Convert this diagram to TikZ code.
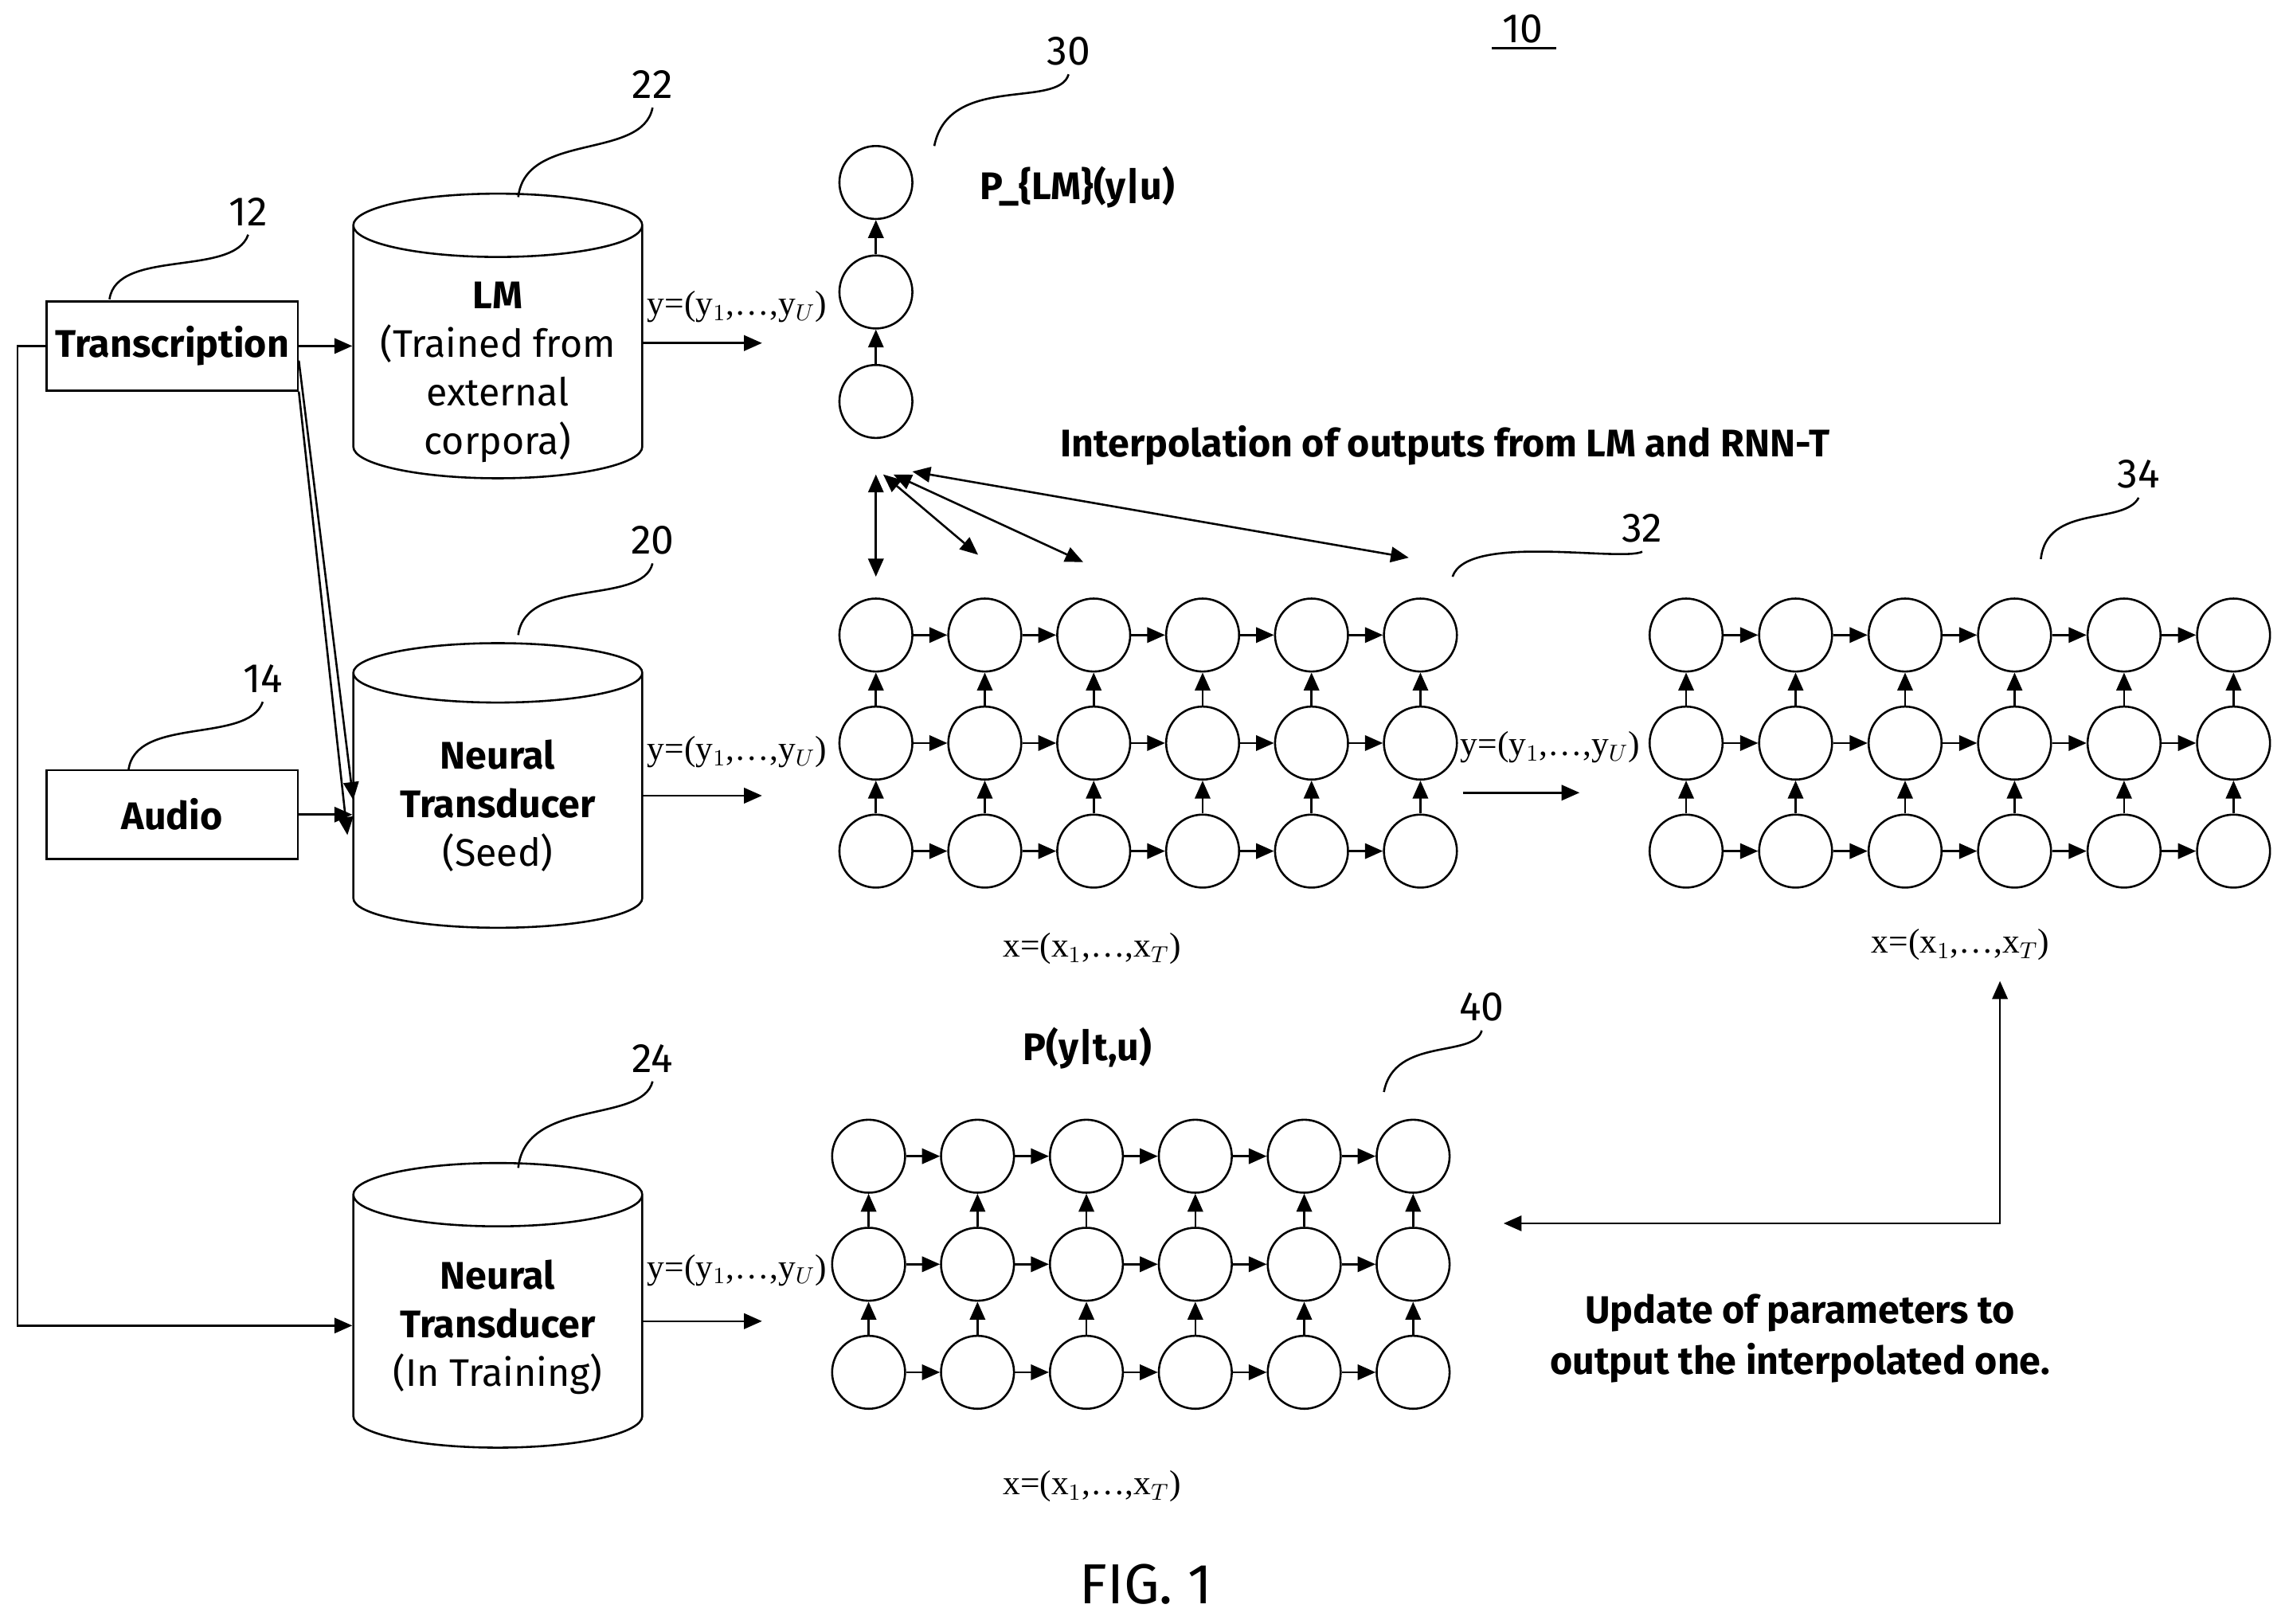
\documentclass[tikz,border=0pt]{standalone}
\usepackage{fontspec}
\setmainfont{Liberation Serif}
\setsansfont{Fira Sans}
\usetikzlibrary{arrows.meta,shapes.geometric}
\tikzset{
  every picture/.style={/utils/exec={\sffamily}},
  neuron/.style={circle, draw, thick, minimum size=1cm, inner sep=0pt},
  arr/.style={-{Triangle[length=7pt,width=6pt]}, thick},
  darr/.style={{Triangle[length=7pt,width=6pt]}-{Triangle[length=7pt,width=6pt]}, thick},
  box/.style={draw, thick, minimum width=3.44cm, minimum height=1.22cm, font=\fontsize{15}{18}\selectfont\bfseries},
  db/.style={cylinder, draw, thick, shape border rotate=90, aspect=0.28, minimum width=3.96cm, minimum height=3.9cm, align=center, font=\fontsize{15}{19}\selectfont},
  refnum/.style={font=\fontsize{16}{19}\selectfont},
  seq/.style={font=\rmfamily\fontsize{13.5}{16}\selectfont, inner sep=1pt},
  lead/.style={thick},
}
\begin{document}
\begin{tikzpicture}[x=0.02cm, y=-0.02cm]
  \useasboundingbox (0,0) rectangle (1568,1112);

  % inputs
  \node [box] (trans) at (118,237) {Transcription};
  \node [box] (audio) at (118,558) {Audio};

  % models
  \node [db] (lm) at (341,245) {\textbf{\phantom{Transducer}}\\\phantom{(In Training)}\\\phantom{X}};
  \node [font=\fontsize{15}{19}\selectfont, align=center] (lmtxt) at (341,255) {\textbf{LM}\\(Trained from\\external\\corpora)};
  \node [db] (seed) at (341,552) {\textbf{Neural}\\\textbf{Transducer}\\(Seed)};
  \node [db] (train) at (341,909) {\textbf{Neural}\\\textbf{Transducer}\\(In Training)};

  \draw [arr] (trans) -- (trans -| lm.west);
  \draw [arr] (trans.east) ++(0,10) coordinate (t1) -- (242,548);
  \draw [arr] (trans.south east) -- (238,572);
  \draw [arr] (audio) -- (audio -| seed.west);
  \coordinate (lft) at (12,237);
  \draw [arr] (trans.west) -- (lft) -- (12,908) -- (train.west |- 0,908);

  % sequences out of the models
  \node [seq] (ylm) at (505,210) {y=(y$_1$,\ldots,y$_U$)};
  \node [seq] (yseed) at (505,515) {y=(y$_1$,\ldots,y$_U$)};
  \node [seq] (ytrain) at (505,870) {y=(y$_1$,\ldots,y$_U$)};
  \draw [arr] (440,235) -- (522,235);
  \draw [arr] (440,545) -- (522,545);
  \draw [arr] (440,905) -- (522,905);

  % LM chain
  \foreach \i/\y in {1/275,2/200,3/125}
    \node [neuron] (c\i) at (600,\y) {};
  \draw [arr] (c1) -- (c2);
  \draw [arr] (c2) -- (c3);
  \node [font=\fontsize{15}{18}\selectfont\bfseries] (plm) at (738,128) {P\_\{LM\}(y|u)};

  % grids
  \foreach \g/\x/\y/\dx in {32/600/435/74.6, 34/1155/435/75, 40/595/792/74.6} {
    \foreach \c in {1,...,6} {
      \foreach \r in {1,2,3}
        \node [neuron] (g\g-\c-\r) at ({\x+(\c-1)*\dx},{\y+(\r-1)*74}) {};
    }
    \foreach \r in {1,2,3} {
      \foreach \c [evaluate=\c as \n using int(\c+1)] in {1,...,5}
        \draw [arr] (g\g-\c-\r) -- (g\g-\n-\r);
    }
    \foreach \c in {1,...,6} {
      \draw [arr] (g\g-\c-3) -- (g\g-\c-2);
      \draw [arr] (g\g-\c-2) -- (g\g-\c-1);
    }
  }

  % interpolation
  \coordinate (ip) at (600,325);
  \node [font=\fontsize{15}{18}\selectfont\bfseries] (interp) at (990,305) {Interpolation of outputs from LM and RNN-T};
  \draw [darr] (ip) -- (600,395);
  \draw [darr] (605,325) -- (670,380);
  \draw [darr] (612,325) -- (742,385);
  \draw [darr] (625,323) -- (965,382);

  \node [seq] (y32) at (1062,512) {y=(y$_1$,\ldots,y$_U$)};
  \draw [arr] (1002,543) -- (1082,543);

  \node [seq] (x32) at (748,650) {x=(x$_1$,\ldots,x$_T$)};
  \node [seq] (x34) at (1343,647) {x=(x$_1$,\ldots,x$_T$)};
  \node [seq] (x40) at (748,1018) {x=(x$_1$,\ldots,x$_T$)};

  \node [font=\fontsize{15}{18}\selectfont\bfseries] (pyt) at (745,718) {P(y|t,u)};

  % update
  \coordinate (ucorner) at (1370,838);
  \draw [darr] (1030,838) -- (ucorner) -- (1370,672);
  \node [align=center, font=\fontsize{15}{20}\selectfont\bfseries] (upd) at (1233,917) {Update of parameters to\\output the interpolated one.};

  % reference numerals
  \node [refnum] (n10) at (1043,20) {10};
  \draw [thick] (1022,33) -- (1066,33);
  \node [refnum] (n12) at (170,145) {12};
  \node [refnum] (n14) at (180,465) {14};
  \node [refnum] (n22) at (447,58) {22};
  \node [refnum] (n20) at (447,370) {20};
  \node [refnum] (n24) at (447,725) {24};
  \node [refnum] (n30) at (732,35) {30};
  \node [refnum] (n32) at (1125,362) {32};
  \node [refnum] (n34) at (1465,325) {34};
  \node [refnum] (n40) at (1015,690) {40};

  \draw [lead] (75,205) .. controls (80,170) and (160,190) .. (n12.south);
  \draw [lead] (88,528) .. controls (92,490) and (170,510) .. (n14.south);
  \draw [lead] (355,135) .. controls (360,90) and (440,110) .. (n22.south);
  \draw [lead] (355,435) .. controls (360,395) and (440,415) .. (n20.south);
  \draw [lead] (355,800) .. controls (360,752) and (440,770) .. (n24.south);
  \draw [lead] (640,100) .. controls (650,50) and (725,75) .. (n30.south);
  \draw [lead] (995,395) .. controls (1005,365) and (1110,385) .. (n32.south);
  \draw [lead] (1398,383) .. controls (1402,345) and (1455,360) .. (n34.south);
  \draw [lead] (948,748) .. controls (955,710) and (1010,725) .. (n40.south);

  \node [font=\fontsize{22}{26}\selectfont] (fig) at (785,1085) {FIG. 1};
\end{tikzpicture}
\end{document}
